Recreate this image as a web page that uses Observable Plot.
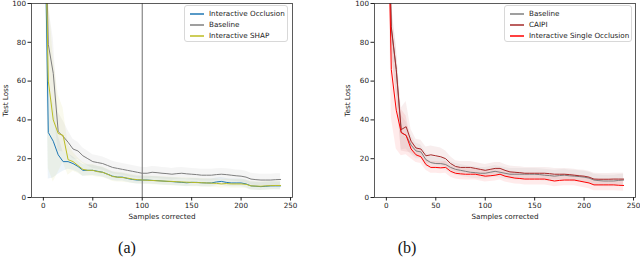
<!DOCTYPE html>
<html><head><meta charset="utf-8">
<script src="https://cdn.jsdelivr.net/npm/d3@7"></script>
<script src="https://cdn.jsdelivr.net/npm/@observablehq/plot@0.6"></script>
<style>
body{margin:0;background:#fff;}
#root{position:relative;width:640px;height:257px;overflow:hidden;font-family:"DejaVu Sans";}
.panel{position:absolute;top:0;}
.legend{position:absolute;background:rgba(255,255,255,0.85);border:1px solid #d8d8d8;border-radius:3px;font-size:7.2px;color:#222;box-sizing:border-box;}
.legend .row{position:absolute;height:10px;display:flex;align-items:center;white-space:nowrap;}
.legend svg{margin-right:5px;display:block;}
.caption{position:absolute;font-family:"Liberation Serif";font-size:16px;top:239px;transform:translateX(-50%);color:#111;}
</style></head>
<body><div id="root"></div>
<script>
// x: number of samples corrected
const samples = [0,5,10,15,20,25,30,35,40,45,50,55,60,65,70,75,80,85,90,95,100,105,110,115,120,125,130,135,140,145,150,155,160,165,170,175,180,185,190,195,200,205,210,215,220,225,230,235,240];
const xTicks = [0,50,100,150,200,250];
const yTicks = [0,20,40,60,80,100];

// Panel (a)
const occlusionA = [190,33.5,29,22,18.5,18.5,17.5,16,14,14,14,13.5,13,12,11,10.5,10.5,9.8,9.3,9,9,9,8.8,8.7,8.5,8.3,8.2,8,7.8,7.6,7.8,7.8,7.6,7.5,7.5,8,8.3,7.8,7.5,7.5,7.5,7,6,5.8,5.6,5.8,6,6,6];
const occlusionASpread = [0,24,19,10,5,4,3.5,3,3,2.8,2.6,2.5,2.4,2.3,2.2,2.1,2,2,2,2,2,2,2,2,2,2,2,2,2,2,2,2,2,2,2,2,2,2,2,2,2,2,2,2,2,2,2,2,2];
const baselineA = [190,79,64,34,31.5,28.5,25,24,21.5,20,18.5,18,17.5,16.5,15.5,15,14.5,14,13.5,13,12.5,12.5,13,12.8,12.5,12.3,12,12.3,12.5,12.2,12,11.8,11.5,11.5,11.5,11.8,12,11.8,11.5,11.2,11,10.5,9.5,9.2,9,9,9,9.2,9.3];
const baselineASpread = [0,20,18,10,8,6,5,4.5,4,3.8,3.6,3.5,3.4,3.3,3.2,3.1,3,3,3,3,3,3,3,3,3,3,3,3,3,3,3,3,3,3,3,3,3,3,3,3,3,3,3,3,3,3,3,3,3];
const shapA = [190,60,40,33,32,19.5,18.5,16.5,14.5,14,14,13.3,13,12,10.8,10.5,10.3,10,9.5,9.2,9,8.9,8.8,8.6,8.5,8.4,8.3,8.1,8,7.9,7.8,7.7,7.6,7.5,7.4,7.3,7,7.2,7,7,7,6.8,6,5.9,5.8,6,6.1,6.2,6.2];
const shapASpread = [0,45,32,20,14,8,5,4,3.5,3,3,2.8,2.7,2.6,2.5,2.5,2.4,2.4,2.3,2.3,2.2,2.2,2.2,2.2,2.2,2.2,2.2,2.2,2.2,2.2,2.2,2.2,2.2,2.2,2.2,2.2,2.2,2.2,2.2,2.2,2.2,2.2,2.2,2.2,2.2,2.2,2.2,2.2,2.2];
const markerA = [100];

// Panel (b)
const baselineB = [190,87,66,33.5,32,27,24,23.5,19.5,18,17.5,17.5,17,15.5,14.5,14,13.5,13,12.8,12.5,12.5,13,13.5,13,12.5,12,12,12,12,12,12,11.8,11.5,11.3,11,11.3,11.5,11.2,11,10.8,10.5,10,9,8.7,8.5,8.5,8.5,8.8,9];
const baselineBSpread = [0,12,12,9,7,5,4,3.5,3.5,3.2,3,3,3,3,3,3,3,3,3,3,3,3,3,3,3,3,3,3,3,3,3,3,3,3,3,3,3,3,3,3,3,3,3,3,3,3,3,3,3];
const caipiB = [190,88,66,35,36.5,29,25.5,25,21.5,22,21.5,21,20,17.5,16,15.5,15.5,15.5,15,14.5,14,14.5,15,15,14,13.2,13,12.8,12.5,12.5,12.5,12.5,12.5,12.3,12,12,12,11.8,11.5,11.2,11,10.5,9.5,9.4,9.4,9.4,9.5,9.5,9.5];
const caipiBSpread = [0,12,12,11,13,6,4.5,4.5,4.5,4.5,4.5,4.5,4,3.5,3,3,3,3,3,3,3,3,3,3,3,3,3,3,3,3,3,3,3,3,3,3,3,3,3,3,3,3,3,3,3,3,3,3,3];
const singleB = [190,66,45,33.5,32,25,22,21,17,15.5,15.5,15.3,15.5,13.5,12.5,12.2,12,12,12,11.5,11,11.2,11.5,12,11,10.5,10,9.8,9.5,9.5,9.5,9.5,9.5,9,8.5,8.8,9,9,9,8.5,8,7.5,6.5,6.5,6.5,6.5,6.5,6.3,6.2];
const singleBSpread = [0,25,20,12,10,5,4,3.5,3,3,3,3,3,3,3,3,3,3,3,3,3,3,3,3,3,3,3,3,3,3,3,3,3,3,3,3,3,3,3,3,3,3,3,3,3,3,3,3,3];

const seriesA = [
  {name:"Interactive Occlusion", color:"#1f77b4", values:occlusionA, spread:occlusionASpread},
  {name:"Baseline", color:"#7f7f7f", values:baselineA, spread:baselineASpread},
  {name:"Interactive SHAP", color:"#bcbd22", values:shapA, spread:shapASpread}
];
const seriesB = [
  {name:"Baseline", color:"#7f7f7f", values:baselineB, spread:baselineBSpread},
  {name:"CAIPI", color:"#a52a2a", values:caipiB, spread:caipiBSpread},
  {name:"Interactive Single Occlusion", color:"#ff0000", values:singleB, spread:singleBSpread}
];

function panel(series, opts) {
  const marks = [];
  const rowsOf = s => samples.map((x,i)=>({x, y:s.values[i], lo:s.values[i]-s.spread[i], hi:s.values[i]+s.spread[i]}));
  for (const s of series) marks.push(Plot.areaY(rowsOf(s), {x:"x", y1:"lo", y2:"hi", fill:s.color, fillOpacity:0.08, clip:true}));
  if (opts.rule) marks.push(Plot.ruleX(opts.rule, {stroke:"#6f6f6f", strokeWidth:1}));
  for (const s of series) marks.push(Plot.lineY(rowsOf(s), {x:"x", y:"y", stroke:s.color, strokeWidth:1, clip:true}));
  marks.push(Plot.frame({stroke:"#333", strokeWidth:0.8}));
  marks.push(Plot.axisX({ticks:xTicks, tickSize:3.5, tickPadding:2, label:"Samples corrected", labelAnchor:"center", labelArrow:"none", labelOffset:21}));
  marks.push(Plot.axisY({ticks:yTicks, tickSize:3.5, tickPadding:2, label:"Test Loss", labelAnchor:"center", labelArrow:"none", labelOffset:opts.labelOffset}));
  return Plot.plot({
    width:320, height:222,
    marginLeft:opts.marginLeft, marginRight:opts.marginRight, marginTop:3, marginBottom:25,
    x:{domain:[-12,252]}, y:{domain:[0,100]},
    style:{fontFamily:"DejaVu Sans", fontSize:"7.2px", color:"#222", background:"transparent", overflow:"visible"},
    marks
  });
}

const NS = "http://www.w3.org/2000/svg";
function legend(series, left, top, width) {
  const box = document.createElement("div");
  box.className = "legend";
  Object.assign(box.style, {left:left+"px", top:top+"px", width:width+"px", height:"37px"});
  series.forEach((s,i)=>{
    const row = document.createElement("div");
    row.className = "row";
    row.style.top = (2.5 + i*11) + "px";
    row.style.left = "5px";
    const svg = document.createElementNS(NS, "svg");
    svg.setAttribute("width", "14"); svg.setAttribute("height", "4");
    const ln = document.createElementNS(NS, "line");
    ln.setAttribute("x1", "0"); ln.setAttribute("x2", "14");
    ln.setAttribute("y1", "2"); ln.setAttribute("y2", "2");
    ln.setAttribute("stroke", s.color); ln.setAttribute("stroke-width", "1.5");
    svg.append(ln);
    const t = document.createElement("span");
    t.textContent = s.name;
    row.append(svg, t);
    box.append(row);
  });
  return box;
}

const root = document.getElementById("root");
const a = panel(seriesA, {marginLeft:31, marginRight:28, rule:markerA, labelOffset:29});
a.classList.add("panel"); a.style.left = "0px";
const b = panel(seriesB, {marginLeft:54, marginRight:5, labelOffset:30});
b.classList.add("panel"); b.style.left = "320px";
root.append(a, b);
root.append(legend(seriesA, 184, 5, 104));
root.append(legend(seriesB, 504, 5, 128));
const capA = document.createElement("div"); capA.className="caption"; capA.style.left="127px"; capA.textContent="(a)";
const capB = document.createElement("div"); capB.className="caption"; capB.style.left="407px"; capB.textContent="(b)";
root.append(capA, capB);
</script>
</body></html>
